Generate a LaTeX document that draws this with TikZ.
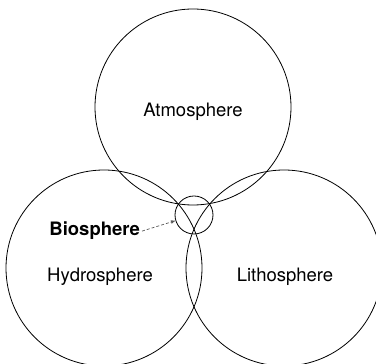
\documentclass[tikz,border=0pt]{standalone}
\usepackage{fontspec}
\setmainfont{TeX Gyre Heros}
\usepackage{xcolor}
\usepackage{tikz}
\usetikzlibrary{shapes}
\usetikzlibrary{arrows}

\begin{document}
\begin{tikzpicture}[x=1pt,y=1pt,
  sphere/.style={circle,draw=drawColor,line width=0.8pt,inner sep=0pt,outer sep=0pt,minimum size=196pt},
  spherename/.style={text=drawColor,anchor=base,inner sep=0pt,outer sep=0pt,font=\fontsize{18.5}{22}\selectfont},
  pointer/.style={draw=pointerColor,line width=0.7pt,densely dashed,-latex}]
\definecolor{fillColor}{RGB}{255,255,255}
\definecolor{drawColor}{RGB}{0,0,0}
\definecolor{pointerColor}{RGB}{90,90,90}
\definecolor{coreColor}{RGB}{205,205,205}
\path[use as bounding box,fill=fillColor] (0,0) rectangle (376,364);
\begin{scope}
\path[clip] (0,0) rectangle (376,364);

\coordinate (atmoC) at (193,257);
\coordinate (hydroC) at (104,96);
\coordinate (lithoC) at (284,96);
\coordinate (bioC) at (194,149);

% part shared by all three spheres
\begin{scope}
\path[clip] (atmoC) circle (98);
\path[clip] (hydroC) circle (98);
\path[fill=coreColor] (lithoC) circle (98);
\end{scope}

\node[sphere] (atmo) at (atmoC) {};
\node[sphere] (hydro) at (hydroC) {};
\node[sphere] (litho) at (lithoC) {};
\node[sphere,minimum size=38pt] (bio) at (bioC) {};

\node[spherename] (atmoname) at (193,247) {Atmosphere};
\node[spherename] (hydroname) at (100,82) {Hydrosphere};
\node[spherename] (lithoname) at (285,82) {Lithosphere};
\node[spherename,anchor=base east,font=\fontsize{18.5}{22}\selectfont\bfseries] (bioname) at (140,128) {Biosphere};

\path[pointer] (bioname.east) ++(2,0) -- (bio.197);
\end{scope}
\end{tikzpicture}
\end{document}
